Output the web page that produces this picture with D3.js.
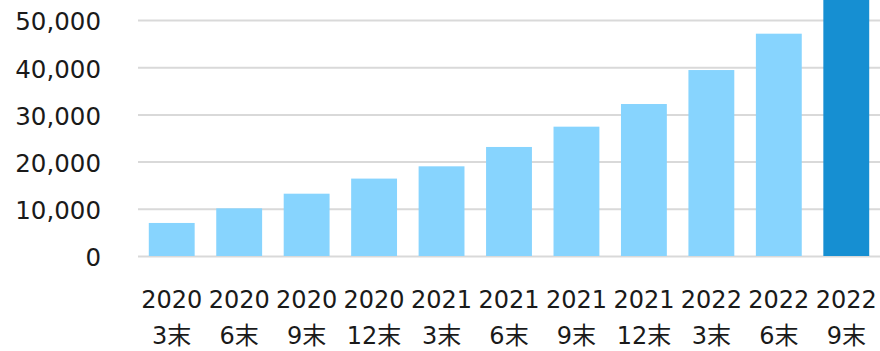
<!DOCTYPE html>
<html>
<head>
<meta charset="utf-8">
<script src="https://cdn.jsdelivr.net/npm/d3@7"></script>
<style>
  html, body { margin: 0; padding: 0; background: #fff; }
  svg { display: block; }
  text { font-family: "DejaVu Sans", "Noto Sans CJK JP", sans-serif; fill: #1a1a1a; }
</style>
</head>
<body>
<svg id="chart"></svg>
<script>
const years = ['2020', '2020', '2020', '2020', '2021', '2021', '2021', '2021', '2022', '2022', '2022'];
const months = ['3末', '6末', '9末', '12末', '3末', '6末', '9末', '12末', '3末', '6末', '9末'];
const values = [7000, 10100, 13200, 16400, 19000, 23100, 27400, 32200, 39400, 47100, 58000];
const yTicks = [0, 10000, 20000, 30000, 40000, 50000];

const width = 880, height = 351;
const margin = {top: 0, right: 0, bottom: 95, left: 138};

let svg = d3.select('#chart')
    .attr('width', width)
    .attr('height', height);

let xScale = d3.scaleBand()
    .domain(d3.range(values.length))
    .range([margin.left, width - margin.right])
    .paddingInner(0.32)
    .paddingOuter(0.16);

let yScale = d3.scaleLinear()
    .domain([0, 50000])
    .range([256, 20]);

// gridlines + y labels
let yAxis = d3.axisLeft(yScale)
    .tickValues(yTicks)
    .tickSize(-(width - margin.left - margin.right))
    .tickFormat(d3.format(','))
    .tickPadding(37);
let gy = svg.append('g')
    .attr('transform', `translate(${margin.left}, 0)`)
    .call(yAxis);
gy.select('.domain').remove();
gy.selectAll('line').attr('stroke', '#d9d9d9').attr('stroke-width', 2);
gy.selectAll('text')
    .attr('font-size', 24.5)
    .attr('dy', '0.4em')
    .style('font-family', '"DejaVu Sans", sans-serif');

// bars
let plot = svg.append('g');
plot.selectAll('rect')
    .data(values)
    .enter()
    .append('rect')
    .attr('x', (d, i) => xScale(i))
    .attr('width', xScale.bandwidth())
    .attr('y', d => yScale(d))
    .attr('height', d => yScale(0) - yScale(d))
    .attr('fill', (d, i) => i === values.length - 1 ? '#168fd2' : '#87d4fe');

// x labels, two lines each
let xAxis = d3.axisBottom(xScale)
    .tickSize(0)
    .tickFormat('');
let gx = svg.append('g')
    .attr('transform', 'translate(0, 256)')
    .call(xAxis);
gx.select('.domain').remove();
gx.selectAll('.tick').each(function (d) {
    let t = d3.select(this).append('text')
        .attr('text-anchor', 'middle')
        .attr('font-size', 24);
    t.append('tspan').attr('x', 0).attr('y', 52).text(years[d]);
    t.append('tspan').attr('x', 0).attr('y', 88).text(months[d]);
});
</script>
</body>
</html>
